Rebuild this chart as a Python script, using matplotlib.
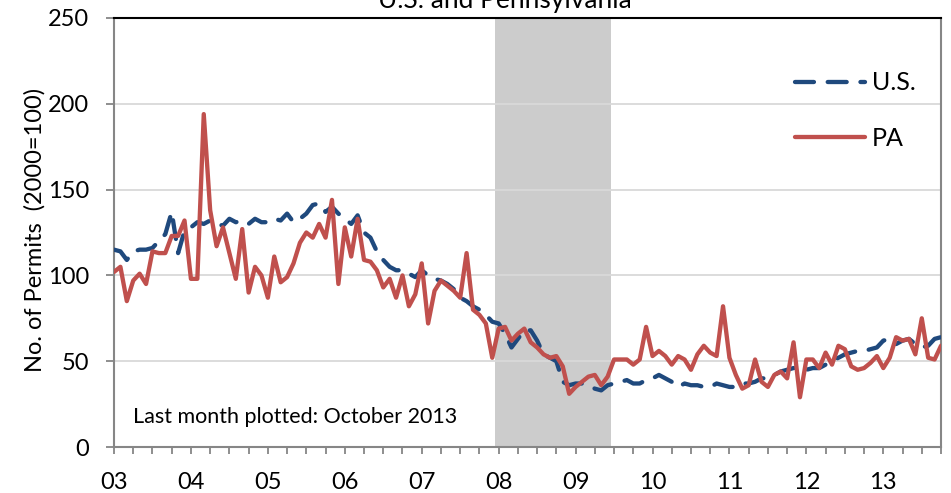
import numpy as np
import matplotlib
matplotlib.use("Agg")
import matplotlib.pyplot as plt

plt.rcParams['font.family'] = ['Lato', 'DejaVu Sans']

# monthly index, Jan 2003 .. Oct 2013 (2000=100)
us = [115, 114, 109, 114, 115, 115, 116, 120, 124, 137, 113, 126,
      128, 131, 130, 132, 130, 129, 133, 131, 132, 130, 133, 131,
      131, 133, 132, 136, 131, 133, 136, 141, 142, 137, 140, 136,
      133, 130, 135, 125, 122, 114, 109, 105, 103, 103, 101, 99,
      103, 100, 98, 97, 95, 92, 87, 85, 82, 80, 77, 73,
      72, 66, 58, 63, 68, 68, 62, 54, 52, 50, 38, 36,
      37, 37, 36, 34, 33, 36, 37, 38, 39, 37, 37, 39,
      40, 42, 40, 38, 35, 37, 36, 36, 35, 35, 37, 36,
      35, 35, 37, 37, 38, 40, 40, 42, 44, 45, 46, 46,
      45, 46, 46, 48, 50, 52, 54, 55, 56, 56, 57, 58,
      62, 63, 60, 62, 63, 60, 58, 59, 63, 64]

pa = [102, 105, 85, 97, 101, 95, 114, 113, 113, 123, 123, 132,
      98, 98, 194, 138, 117, 128, 113, 98, 127, 90, 105, 100,
      87, 111, 96, 99, 107, 119, 125, 122, 130, 122, 144, 95,
      128, 111, 133, 109, 108, 103, 93, 98, 87, 100, 82, 89,
      107, 72, 91, 97, 94, 91, 87, 113, 80, 77, 72, 52,
      69, 70, 62, 66, 69, 61, 58, 54, 52, 53, 47, 31,
      35, 38, 41, 42, 36, 41, 51, 51, 51, 48, 51, 70,
      53, 56, 53, 48, 53, 51, 45, 54, 59, 55, 53, 82,
      52, 42, 34, 36, 51, 38, 35, 42, 44, 40, 61, 29,
      51, 51, 46, 55, 48, 59, 57, 47, 45, 46, 49, 53,
      46, 52, 64, 62, 63, 54, 75, 52, 51, 59]

year_labels = ['03', '04', '05', '06', '07', '08', '09', '10', '11', '12', '13']
recession = (59.5, 77.6)   # Dec 2007 - Jun 2009

months = np.arange(len(pa))

fig = plt.figure(figsize=(9.51, 4.93), dpi=100)
ax = fig.add_axes([114/951, 1 - 447/493, 827/951, 429/493])

ax.axvspan(recession[0], recession[1], color='#CCCCCC', zorder=0.5, lw=0)
ax.yaxis.grid(True, color='#D9D9D9', lw=1.3, zorder=1)
ax.set_axisbelow(True)

ax.plot(months, us, color='#1F497D', lw=3.1, ls=(0, (4.4, 3.2)),
        dash_capstyle='round', label='U.S.', zorder=3)
ax.plot(months, pa, color='#C0504D', lw=3.1, solid_capstyle='round',
        solid_joinstyle='round', label='PA', zorder=4)

ax.set_xlim(0, 129)
ax.set_ylim(0, 250)
ax.set_yticks(np.arange(0, 251, 50))
ax.set_xticks(np.arange(0, 121, 12))
ax.set_xticklabels(year_labels)
ax.set_xticks(np.arange(0, 130, 3), minor=True)

ax.tick_params(axis='both', which='both', direction='out', colors='#868686',
               labelcolor='black', labelsize=17, width=1.3)
ax.tick_params(axis='x', which='both', length=5, pad=13)
ax.tick_params(axis='y', length=6, pad=12)

for side in ['left', 'bottom', 'right']:
    ax.spines[side].set_color('#868686')
    ax.spines[side].set_linewidth(1.5)
ax.spines['top'].set_color('black')
ax.spines['top'].set_linewidth(1.5)

ax.legend(loc='upper left', bbox_to_anchor=(0.808, 0.905), frameon=False,
          fontsize=18, handlelength=2.8, handletextpad=0.3,
          labelspacing=1.3, borderpad=0)

ax.text(0.023, 0.07, 'Last month plotted: October 2013', transform=ax.transAxes,
        fontsize=15.5, va='center', ha='left')

fig.text(35/951, 1 - 230/493, 'No. of Permits  (2000=100)', rotation=90,
         fontsize=17, va='center', ha='center')
fig.text(505/951, 1 - 8/493, 'U.S. and Pennsylvania', fontsize=19,
         ha='center', va='baseline')

fig.savefig('out.png', dpi=100)
